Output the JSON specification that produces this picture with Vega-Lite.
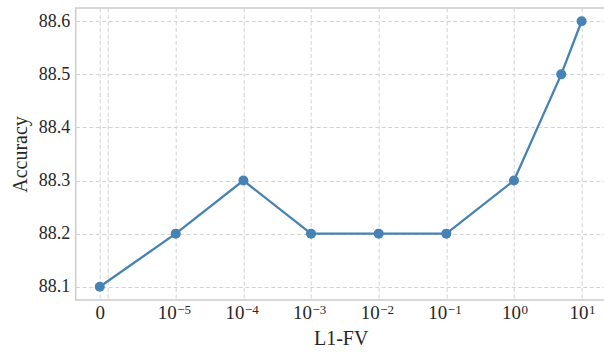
{
  "$schema": "https://vega.github.io/schema/vega-lite/v6.json",
  "autosize": {"type": "none"},
  "padding": {"left": 75.7, "top": 8, "right": 0, "bottom": 52},
  "width": 530,
  "height": 292,
  "config": {
    "font": "Liberation Serif",
    "view": {"stroke": "#cccccc", "strokeWidth": 1.5},
    "axis": {
      "labelFont": "Liberation Serif",
      "titleFont": "Liberation Serif",
      "labelFontSize": 18,
      "titleFontSize": 20,
      "labelColor": "#262626",
      "titleColor": "#262626",
      "titleFontWeight": "normal",
      "ticks": false,
      "domain": false,
      "gridColor": "#d3d3d3",
      "gridDash": [4, 2.5],
      "gridWidth": 1
    }
  },
  "data": {
    "values": [
      {"pos": -0.123, "lambda": "0", "acc": 88.1},
      {"pos": 1, "lambda": "1e-5", "acc": 88.2},
      {"pos": 2, "lambda": "1e-4", "acc": 88.3},
      {"pos": 3, "lambda": "1e-3", "acc": 88.2},
      {"pos": 4, "lambda": "1e-2", "acc": 88.2},
      {"pos": 5, "lambda": "1e-1", "acc": 88.2},
      {"pos": 6, "lambda": "1", "acc": 88.3},
      {"pos": 6.699, "lambda": "5", "acc": 88.5},
      {"pos": 7, "lambda": "10", "acc": 88.6}
    ]
  },
  "resolve": {"scale": {"x": "shared"}, "axis": {"x": "independent"}},
  "layer": [
    {
      "mark": {
        "type": "line",
        "color": "#4682b4",
        "strokeWidth": 2.3,
        "point": {"filled": true, "size": 100, "color": "#4682b4", "opacity": 1}
      },
      "encoding": {
        "x": {
          "field": "pos",
          "type": "quantitative",
          "scale": {"domain": [-0.479, 7.356], "nice": false, "zero": false},
          "axis": {
            "orient": "bottom",
            "title": "L1-FV",
            "values": [-0.123, 0, 1, 2, 3, 4, 5, 6, 7],
            "labelExpr": "datum.value < 0 ? '0' : datum.value < 0.5 ? '' : '10'",
            "labelFontSize": 19,
            "labelPadding": 4,
            "labelOffset": {"condition": [{"test": "datum.value < 0.5", "value": 0}, {"test": "datum.value > 5.5", "value": -3}], "value": -9},
            "titlePadding": 6
          }
        },
        "y": {
          "field": "acc",
          "type": "quantitative",
          "scale": {"domain": [88.075, 88.625], "nice": false, "zero": false},
          "axis": {
            "title": "Accuracy",
            "values": [88.1, 88.2, 88.3, 88.4, 88.5, 88.6],
            "format": ".1f",
            "labelPadding": 6,
            "titlePadding": 8
          }
        }
      }
    },
    {
      "mark": {"type": "point", "opacity": 0},
      "encoding": {
        "x": {
          "field": "pos",
          "type": "quantitative",
          "axis": {
            "orient": "bottom",
            "title": null,
            "grid": false,
            "values": [1, 2, 3, 4, 5, 6, 7],
            "labelExpr": "['−5','−4','−3','−2','−1','0','1'][datum.value - 1]",
            "labelFontSize": 13,
            "labelAlign": "left",
            "labelPadding": 4,
            "labelOffset": {"condition": {"test": "datum.value > 5.5", "value": 7}, "value": 1}
          }
        },
        "y": {"field": "acc", "type": "quantitative"}
      }
    }
  ]
}
